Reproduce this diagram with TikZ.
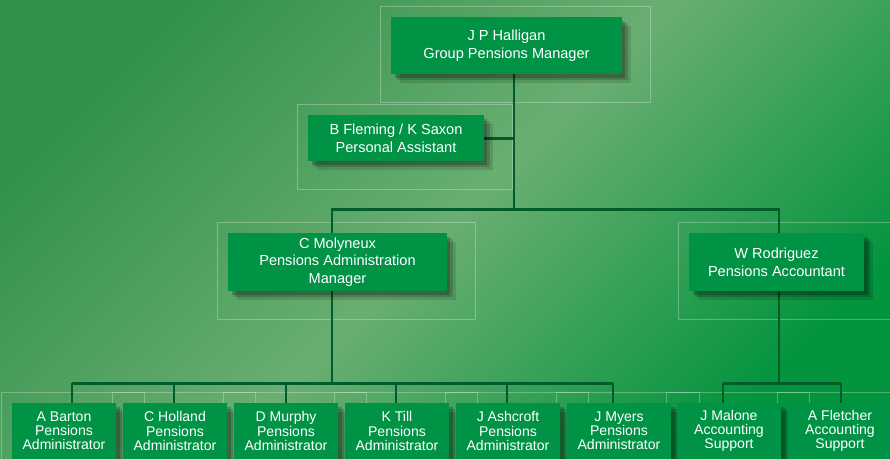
\documentclass[tikz,border=0pt]{standalone}
\usepackage{fontspec}
\setmainfont{Liberation Sans}
\usetikzlibrary{calc,shadows,backgrounds}
\definecolor{boxgreen}{RGB}{0,146,69}
\definecolor{linkgreen}{RGB}{0,92,42}
\definecolor{bgmid}{RGB}{50,146,76}
\definecolor{bglight}{RGB}{106,174,114}
\definecolor{bgdeep}{RGB}{4,148,62}
\pgfdeclarelayer{paper}
\pgfsetlayers{paper,background,main}
\tikzset{
	post/.style={fill=boxgreen, text=white, align=center, inner sep=0pt,
		font=\fontsize{8.3}{10}\selectfont,
		drop shadow={shadow xshift=5pt, shadow yshift=-5pt, fill=black, opacity=0.12},
		drop shadow={shadow xshift=3.5pt, shadow yshift=-3.5pt, fill=black, opacity=0.16},
		drop shadow={shadow xshift=2pt, shadow yshift=-2pt, fill=black, opacity=0.2}},
	staff/.style={post, minimum width=2.08cm, minimum height=1.12cm, font=\fontsize{8}{8}\selectfont},
	link/.style={draw=linkgreen, line width=1.7pt},
	frame/.style={draw=white, draw opacity=0.28, line width=0.5pt}
}
\def\postframe#1{\draw[frame] ($(#1.north west)+(-10,-10)$) rectangle ($(#1.south east)+(28,28)$);}

\begin{document}
\begin{tikzpicture}[x=0.02cm, y=-0.02cm]
			%%%%% START %%%%%
			\useasboundingbox (0,0) rectangle (890,458);
			\begin{pgfonlayer}{paper}
				\shade[left color=bgmid, right color=bgdeep, middle color=bglight, shading angle=45] (0,0) rectangle (890,458);
			\end{pgfonlayer}
			
			% head and assistant
			\node[post, minimum width=4.62cm, minimum height=1.14cm] (halligan) at (506.5,45.5) {J P Halligan\\Group Pensions Manager};
			\node[post, minimum width=3.52cm, minimum height=0.92cm] (fleming) at (396,138) {B Fleming / K Saxon\\Personal Assistant};
			
			% managers
			\node[post, minimum width=4.38cm, minimum height=1.16cm] (molyneux) at (337.5,262) {C Molyneux\\Pensions Administration\\Manager};
			\node[post, minimum width=3.50cm, minimum height=1.16cm] (rodriguez) at (776.5,262) {W Rodriguez\\Pensions Accountant};
			
			% staff row
			\foreach \n/\x/\who/\job in {
				barton/64/A Barton/Pensions\\Administrator,
				holland/175/C Holland/Pensions\\Administrator,
				murphy/286/D Murphy/Pensions\\Administrator,
				till/397/K Till/Pensions\\Administrator,
				ashcroft/508/J Ashcroft/Pensions\\Administrator,
				myers/619/J Myers/Pensions\\Administrator,
				malone/729/J Malone/Accounting\\Support,
				fletcher/840/A Fletcher/Accounting\\Support}
				{\node[staff] (\n) at (\x,431) {\who\\\job};}
			
			\begin{pgfonlayer}{background}
				% faint frames behind the boxes
				\foreach \n in {halligan,fleming,molyneux,rodriguez,barton,holland,murphy,till,ashcroft,myers,malone,fletcher}
					{\postframe{\n}}
				
				% connectors
				\coordinate (trunk) at (514,209);
				\coordinate (lm) at (332,209);
				\coordinate (la) at (779,209);
				\coordinate (bm) at (332,383);
				\coordinate (ba) at (779,383);
				\foreach \n/\x in {barton/72, holland/174, murphy/286, till/396, ashcroft/507, myers/613, malone/723, fletcher/841}
					{\coordinate (d\n) at (\x,383);}
				
				\draw[link] (halligan.south -| trunk) -- (trunk);
				\draw[link] (fleming.east) -- (fleming.east -| trunk);
				\draw[link] (molyneux.north -| lm) -- (lm) -- (la) -- (rodriguez.north -| la);
				\draw[link] (molyneux.south -| bm) -- (bm);
				\draw[link] (rodriguez.south -| ba) -- (ba);
				\draw[link] (dbarton) -- (dmyers);
				\draw[link] (dmalone) -- (dfletcher);
				\foreach \n in {barton,holland,murphy,till,ashcroft,myers,malone,fletcher}
					{\draw[link] (d\n) -- (\n.north -| d\n);}
			\end{pgfonlayer}
			%%%%% END %%%%%
\end{tikzpicture}
\end{document}
